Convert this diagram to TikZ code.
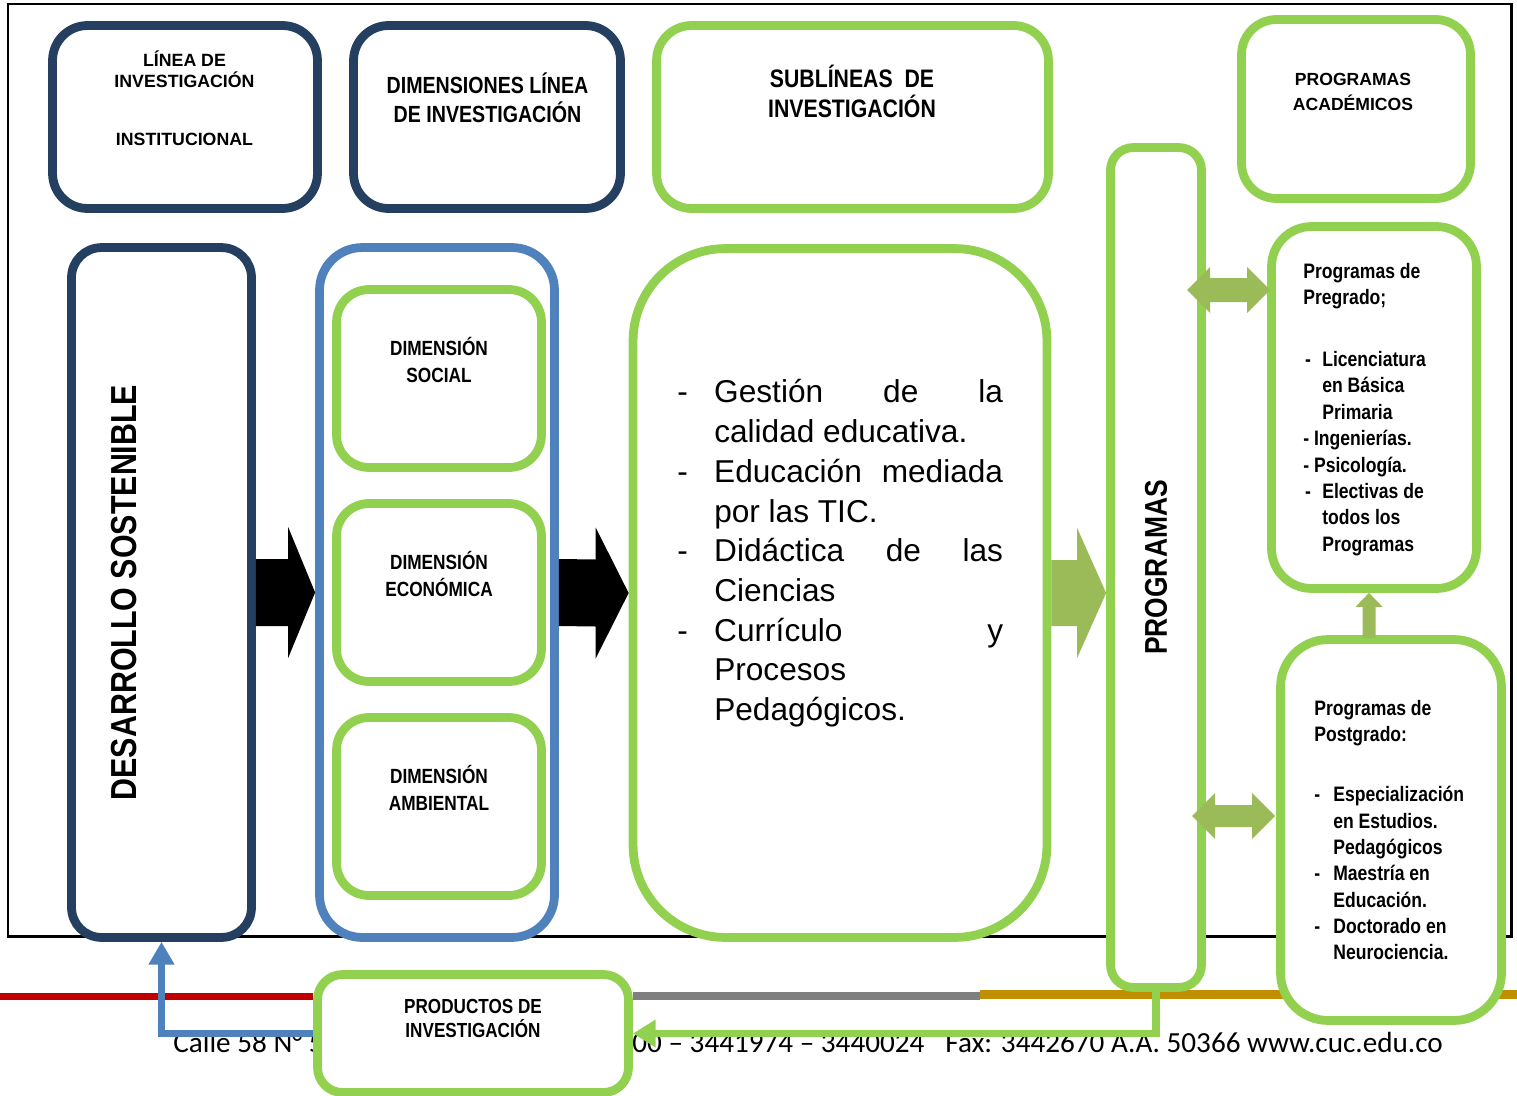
\documentclass[tikz,border=0pt]{standalone}
\usepackage{fontspec}
\setmainfont{Liberation Sans}
\newfontfamily\condfont[FakeStretch=0.84]{Liberation Sans}
\newfontfamily\footfont{Carlito}
\usetikzlibrary{calc,arrows.meta}

\definecolor{deepnavy}{HTML}{243F60}
\definecolor{steelblue}{HTML}{4F81BD}
\definecolor{leafgreen}{HTML}{92D050}
\definecolor{olivegreen}{HTML}{9BBB59}
\definecolor{footred}{HTML}{C00000}
\definecolor{footgray}{HTML}{7F7F7F}
\definecolor{footgold}{HTML}{BF8F00}

% strut for the first line of a text block
\newcommand{\fs}{\rule{0pt}{1em}}

% colour, tail, tip, shaft half, head half, head length
\newcommand{\blockarrow}[6]{%
  \fill[#1] ($(#2)+(0,-#4)$) -- ($(#3)+(-#6,-#4)$) -- ($(#3)+(-#6,-#5)$) -- (#3)
    -- ($(#3)+(-#6,#5)$) -- ($(#3)+(-#6,#4)$) -- ($(#2)+(0,#4)$) -- cycle;}

% left tip, right tip, shaft half, head half, head length
\newcommand{\dblarrow}[5]{%
  \fill[olivegreen] (#1) -- ($(#1)+(#5,-#4)$) -- ($(#1)+(#5,-#3)$) -- ($(#2)+(-#5,-#3)$)
    -- ($(#2)+(-#5,-#4)$) -- (#2) -- ($(#2)+(-#5,#4)$) -- ($(#2)+(-#5,#3)$)
    -- ($(#1)+(#5,#3)$) -- ($(#1)+(#5,#4)$) -- cycle;}

\begin{document}
\begin{tikzpicture}[x=0.02cm, y=-0.02cm,
  box/.style={line width=5pt, fill=white, inner sep=0pt},
  navybox/.style={box, draw=deepnavy},
  greenbox/.style={box, draw=leafgreen},
  bluebox/.style={box, draw=steelblue},
  ctitle/.style 2 args={font=\condfont\bfseries\fontsize{#1}{#2}\selectfont, align=center, anchor=north, inner sep=0pt},
  ptitle/.style 2 args={font=\bfseries\fontsize{#1}{#2}\selectfont, align=center, anchor=north, inner sep=0pt},
  vtitle/.style={font=\condfont\bfseries\fontsize{#1}{#1}\selectfont, rotate=90, inner sep=0pt},
  listtxt/.style={font=\condfont\bfseries\fontsize{11.9}{15}\selectfont, align=left, anchor=north west, inner sep=0pt},
  foot/.style={font=\footfont\fontsize{16.6}{20}\selectfont, inner sep=0pt},
  greenline/.style={draw=leafgreen, line width=4.5pt, -{Triangle[length=13pt,width=15pt]}},
  blueline/.style={draw=steelblue, line width=4.5pt, -{Triangle[length=13pt,width=14pt]}}]

\useasboundingbox (0,0) rectangle (1517,1095);

% page frame and footer
\draw[line width=1.7pt] (8,4) rectangle (1511,936.5);
\draw[line width=4pt, footred] (0,996.5) -- (313,996.5);
\draw[line width=4pt, footgray] (633,996) -- (980,996);
\draw[line width=4.6pt, footgold] (980,994.5) -- (1517,994.5);
\node[foot, anchor=base west] (addr) at (173,1052) {Calle 58 N° 55 – 66};
\node[foot, anchor=base east] (phone) at (1443,1052) {3362200 – 3441974 – 3440024\hspace{0.72em}Fax: 3442670 A.A. 50366 www.cuc.edu.co};

% header boxes
\node[navybox, minimum width=5.3cm, minimum height=3.66cm, rounded corners=0.7cm] (linea) at (185,117) {};
\node[navybox, minimum width=5.34cm, minimum height=3.66cm, rounded corners=0.7cm] (dims) at (487,117) {};
\node[greenbox, minimum width=7.84cm, minimum height=3.66cm, rounded corners=0.7cm] (subl) at (852.5,117) {};
\node[greenbox, minimum width=4.58cm, minimum height=3.58cm, rounded corners=0.7cm] (acad) at (1356,109) {};

% columns
\node[navybox, minimum width=3.6cm, minimum height=13.8cm, rounded corners=0.6cm] (desa) at (161.5,592.5) {};
\node[bluebox, minimum width=4.7cm, minimum height=13.8cm, rounded corners=0.85cm] (dimcont) at (437,592.5) {};
\node[greenbox, minimum width=4.1cm, minimum height=3.56cm, rounded corners=0.65cm] (social) at (439,378.5) {};
\node[greenbox, minimum width=4.1cm, minimum height=3.56cm, rounded corners=0.65cm] (econ) at (439,592.5) {};
\node[greenbox, minimum width=4.1cm, minimum height=3.56cm, rounded corners=0.65cm] (amb) at (439,806.5) {};
\node[greenbox, minimum width=8.28cm, minimum height=13.78cm, rounded corners=1.85cm] (sublist) at (840,593) {};
\node[greenbox, minimum width=1.82cm, minimum height=16.8cm, rounded corners=0.45cm] (prog) at (1156,567.5) {};
\node[greenbox, minimum width=4.1cm, minimum height=7.24cm, rounded corners=0.8cm] (pre) at (1374,407.5) {};
\node[greenbox, minimum width=4.42cm, minimum height=7.62cm, rounded corners=0.95cm] (post) at (1391,830) {};

% texts
\node[ptitle={10.1}{11.8}] (lineatxt) at (184.5,48.2) {\fs LÍNEA DE\\INVESTIGACIÓN\\[21.4pt]INSTITUCIONAL};
\node[ctitle={13.3}{16.7}] (dimstxt) at (487.5,69.9) {\fs DIMENSIONES LÍNEA\\DE INVESTIGACIÓN};
\node[ctitle={14.4}{17.1}] (subltxt) at (852,61.7) {\fs SUBLÍNEAS\ \ DE\\INVESTIGACIÓN};
\node[ptitle={10}{14.2}] (acadtxt) at (1353,67.4) {\fs PROGRAMAS\\ACADÉMICOS};
\node[ctitle={11.7}{15.4}] (socialtxt) at (439,334.4) {\fs DIMENSIÓN\\SOCIAL};
\node[ctitle={11.7}{15.4}] (econtxt) at (439,548.4) {\fs DIMENSIÓN\\ECONÓMICA};
\node[ctitle={11.7}{15.4}] (ambtxt) at (439,762.4) {\fs DIMENSIÓN\\AMBIENTAL};
\node[vtitle=20.6] (desatxt) at (124.5,592.5) {DESARROLLO SOSTENIBLE};
\node[vtitle=17.9] (progtxt) at (1156,567.5) {PROGRAMAS};

\node[font=\fontsize{18}{22.6}\selectfont, align=left, anchor=north west, inner sep=0pt] (sublisttxt) at (677,371) {%
\fs\makebox[21pt][l]{-}\makebox[164.4pt]{Gestión\hfill de\hfill la}\\
\hspace*{21pt}calidad educativa.\\
\makebox[21pt][l]{-}\makebox[164.4pt]{Educación\hfill mediada}\\
\hspace*{21pt}por las TIC.\\
\makebox[21pt][l]{-}\makebox[164.4pt]{Didáctica\hfill de\hfill las}\\
\hspace*{21pt}Ciencias\\
\makebox[21pt][l]{-}\makebox[164.4pt]{Currículo\hfill y}\\
\hspace*{21pt}Procesos\\
\hspace*{21pt}Pedagógicos.};

\node[listtxt] (pretxt) at (1303,257) {\fs Programas de\\Pregrado;\\[20.3pt]
\makebox[10.8pt][l]{\hspace{1pt}-}Licenciatura\\
\hspace*{10.8pt}en Básica\\
\hspace*{10.8pt}Primaria\\
- Ingenierías.\\
- Psicología.\\
\makebox[10.8pt][l]{\hspace{1pt}-}Electivas de\\
\hspace*{10.8pt}todos los\\
\hspace*{10.8pt}Programas};

\node[listtxt] (posttxt) at (1314,694) {\fs Programas de\\Postgrado:\\[19.2pt]
\makebox[10.8pt][l]{-}Especialización\\
\hspace*{10.8pt}en Estudios.\\
\hspace*{10.8pt}Pedagógicos\\
\makebox[10.8pt][l]{-}Maestría en\\
\hspace*{10.8pt}Educación.\\
\makebox[10.8pt][l]{-}Doctorado en\\
\hspace*{10.8pt}Neurociencia.};

% block arrows
\blockarrow{black}{desa.east}{dimcont.west}{33.5}{65.5}{27}
\blockarrow{black}{dimcont.east}{sublist.west}{33.5}{65.5}{33}
\coordinate (gtip) at (prog.west |- sublist.east);
\blockarrow{olivegreen}{sublist.east}{gtip}{33}{65}{29}

\coordinate (preL) at (1187,290);
\coordinate (preR) at (1270,290);
\dblarrow{preL}{preR}{12}{23}{23}
\coordinate (postL) at (1192,816);
\coordinate (postR) at (1275,816);
\dblarrow{postL}{postR}{11}{23}{23}

\coordinate (upTip) at ($(pre.south)+(-5,0)$);
\coordinate (upTail) at ($(upTip |- post.north)+(0,3)$);
\fill[olivegreen] ($(upTail)+(-6.5,0)$) -- ($(upTip)+(-6.5,14)$) -- ($(upTip)+(-13.5,14)$) -- (upTip)
  -- ($(upTip)+(13.5,14)$) -- ($(upTip)+(6.5,14)$) -- ($(upTail)+(6.5,0)$) -- cycle;

% products box and loops back
\node[greenbox, minimum width=6.22cm, minimum height=2.36cm, rounded corners=0.5cm] (prod) at (473,1033.5) {};
\node[ctitle={11.6}{13.7}] (prodtxt) at (473,992.6) {\fs PRODUCTOS DE\\INVESTIGACIÓN};
\draw[greenline] (prog.south) |- (prod.east);
\draw[blueline] (prod.west) -| (desa.south);
\end{tikzpicture}
\end{document}
